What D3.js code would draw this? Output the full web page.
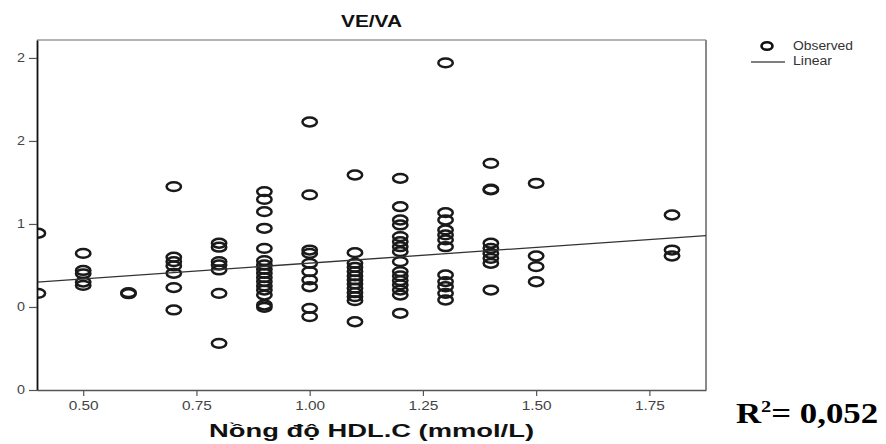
<!DOCTYPE html>
<html>
<head>
<meta charset="utf-8">
<script src="https://cdn.jsdelivr.net/npm/d3@7"></script>
<style>
  html, body { margin: 0; padding: 0; background: #fff; }
  svg { display: block; }
</style>
</head>
<body>
<svg id="chart" width="886" height="444"></svg>
<script>
// ---- data ----
const xGroups = [0.4, 0.5, 0.6, 0.7, 0.8, 0.9, 1.0, 1.1, 1.2, 1.3, 1.4, 1.5, 1.8];
const yByGroup = [
  [0.944, 0.582],
  [0.823, 0.72, 0.70, 0.65, 0.63],
  [0.580, 0.586],
  [1.225, 0.80, 0.773, 0.747, 0.703, 0.617, 0.482],
  [0.884, 0.86, 0.773, 0.753, 0.723, 0.582, 0.281],
  [1.195, 1.148, 1.074, 0.974, 0.853, 0.779, 0.753, 0.727, 0.703, 0.677, 0.653, 0.627, 0.602, 0.572, 0.512, 0.498],
  [1.614, 1.175, 0.843, 0.823, 0.763, 0.713, 0.663, 0.622, 0.492, 0.442],
  [1.295, 0.827, 0.763, 0.739, 0.713, 0.687, 0.663, 0.639, 0.613, 0.586, 0.562, 0.538, 0.411],
  [1.275, 1.104, 1.024, 0.994, 0.924, 0.893, 0.863, 0.833, 0.773, 0.713, 0.687, 0.659, 0.633, 0.602, 0.572, 0.462],
  [1.97, 1.068, 1.024, 0.964, 0.934, 0.904, 0.863, 0.693, 0.653, 0.622, 0.582, 0.542],
  [1.365, 1.209, 1.205, 0.884, 0.853, 0.823, 0.793, 0.763, 0.602],
  [1.245, 0.807, 0.743, 0.652],
  [1.054, 0.843, 0.807]
];
const fitX = [0.398, 1.875];
const fitY = [0.650, 0.930];
const xTickValues = [0.5, 0.75, 1.0, 1.25, 1.5, 1.75];
const xTickLabels = ["0.50", "0.75", "1.00", "1.25", "1.50", "1.75"];
const yTickValues = [0, 0.5, 1.0, 1.5, 2.0];
const yTickLabels = ["0", "0", "1", "2", "2"];
const titleText = "VE/VA";
const xAxisTitle = "Nồng độ HDL.C (mmol/L)";
const legendLabels = ["Observed", "Linear"];
const r2Label = "0,052";

// ---- layout ----
const svg = d3.select("#chart");
const L = 37, R = 706, T = 40, B = 390;
const x = d3.scaleLinear().domain([0.398, 1.875]).range([L, R]);
const y = d3.scaleLinear().domain([0, 2.108]).range([B, T]);
const SANS = "Liberation Sans, Arial, sans-serif";

const points = [];
xGroups.forEach((g, i) => yByGroup[i].forEach(v => points.push({x: g, y: v})));

svg.append("clipPath").attr("id", "plotclip")
  .append("rect").attr("x", L).attr("y", T).attr("width", R - L).attr("height", B - T);

// frame (top/right grey)
svg.append("line").attr("x1", L).attr("x2", R).attr("y1", T).attr("y2", T)
  .attr("stroke", "#9a9a9a").attr("stroke-width", 1.5);
svg.append("line").attr("x1", R).attr("x2", R).attr("y1", T).attr("y2", B)
  .attr("stroke", "#8a8a8a").attr("stroke-width", 2);

// points
const plot = svg.append("g").attr("clip-path", "url(#plotclip)");
plot.selectAll("ellipse.pt").data(points).enter().append("ellipse")
  .attr("class", "pt")
  .attr("cx", d => x(d.x)).attr("cy", d => y(d.y))
  .attr("rx", 7.2).attr("ry", 4.4)
  .attr("fill", "none").attr("stroke", "#1a1a1a").attr("stroke-width", 2.5);

// fit line
plot.append("path")
  .datum(fitX.map((v, i) => [v, fitY[i]]))
  .attr("d", d3.line().x(d => x(d[0])).y(d => y(d[1])))
  .attr("fill", "none").attr("stroke", "#333").attr("stroke-width", 1.3);

// axes
const xAxis = d3.axisBottom(x).tickValues(xTickValues)
  .tickFormat((d, i) => xTickLabels[i]).tickSize(6).tickSizeOuter(0);
const gx = svg.append("g").attr("transform", `translate(0,${B})`).call(xAxis);
gx.select(".domain").attr("stroke", "#555").attr("stroke-width", 1.6);
gx.selectAll(".tick line").attr("stroke", "#555").attr("stroke-width", 1.2);
gx.selectAll(".tick text").attr("font-family", SANS)
  .attr("font-size", 12).attr("fill", "#444").attr("dy", "0.95em")
  .attr("textLength", 30).attr("lengthAdjust", "spacingAndGlyphs");

const yAxis = d3.axisLeft(y).tickValues(yTickValues)
  .tickFormat((d, i) => yTickLabels[i]).tickSize(8).tickSizeOuter(0);
const gy = svg.append("g").attr("transform", `translate(${L},0)`).call(yAxis);
gy.select(".domain").attr("stroke", "#111").attr("stroke-width", 1.8);
gy.selectAll(".tick line").attr("stroke", "#555").attr("stroke-width", 1.2);
gy.selectAll(".tick text").attr("font-family", SANS)
  .attr("font-size", 12).attr("fill", "#444").attr("x", -12)
  .attr("textLength", 8).attr("lengthAdjust", "spacingAndGlyphs");

// title
svg.append("text").attr("x", (L + R) / 2).attr("y", 27)
  .attr("text-anchor", "middle")
  .attr("font-family", SANS)
  .attr("font-weight", "bold").attr("font-size", 16).attr("fill", "#111")
  .attr("textLength", 61).attr("lengthAdjust", "spacingAndGlyphs")
  .text(titleText);

// x axis title
svg.append("text").attr("x", (L + R) / 2).attr("y", 437)
  .attr("text-anchor", "middle")
  .attr("font-family", SANS)
  .attr("font-weight", "bold").attr("font-size", 18).attr("fill", "#111")
  .attr("textLength", 325).attr("lengthAdjust", "spacingAndGlyphs")
  .text(xAxisTitle);

// legend
const lg = svg.append("g");
lg.append("ellipse").attr("cx", 767).attr("cy", 46).attr("rx", 5.5).attr("ry", 3.8)
  .attr("fill", "none").attr("stroke", "#111").attr("stroke-width", 2.6);
lg.append("line").attr("x1", 751).attr("x2", 785).attr("y1", 62).attr("y2", 62)
  .attr("stroke", "#555").attr("stroke-width", 1.5);
lg.selectAll("text.lg").data(legendLabels).enter().append("text")
  .attr("x", 793).attr("y", (d, i) => 50 + i * 15)
  .attr("font-family", SANS)
  .attr("font-size", 12).attr("fill", "#333")
  .attr("textLength", (d, i) => i === 0 ? 60 : 39).attr("lengthAdjust", "spacingAndGlyphs")
  .text(d => d);

// R^2 annotation (horizontally stretched like the reference)
const rt = svg.append("text")
  .attr("transform", "translate(736,423) scale(1.2,1)")
  .attr("font-family", "Liberation Serif, Times New Roman, serif")
  .attr("font-weight", "bold").attr("font-size", 29).attr("fill", "#000");
rt.append("tspan").text("R");
rt.append("tspan").attr("dy", -11).attr("font-size", 17).text("2");
rt.append("tspan").attr("dy", 11).text("= " + r2Label);
</script>
</body>
</html>
